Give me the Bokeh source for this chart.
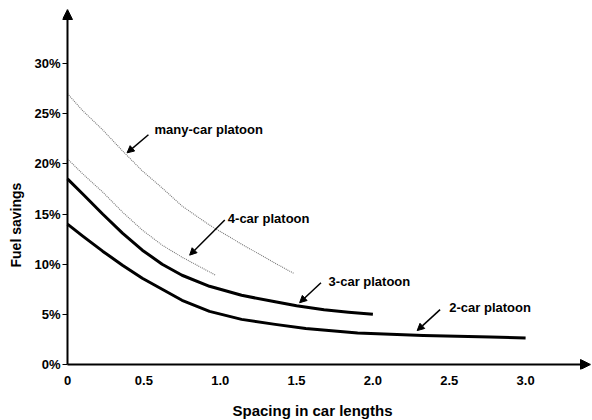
from math import pi
from bokeh.plotting import figure
from bokeh.models import Arrow, NormalHead, Label, FixedTicker, Range1d, Title
from bokeh.embed import file_html
from bokeh.resources import INLINE

# ---- data (fuel savings in %, spacing in car lengths) ----
x_many = [0, 0.1, 0.23, 0.36, 0.49, 0.62, 0.75, 0.93, 1.14, 1.36, 1.48]
y_many = [27.0, 25.3, 23.4, 21.3, 19.3, 17.6, 15.8, 13.9, 12.0, 10.1, 9.1]

x_four = [0, 0.1, 0.23, 0.36, 0.49, 0.62, 0.75, 0.97]
y_four = [20.5, 19.0, 17.2, 15.2, 13.4, 11.9, 10.7, 8.9]

x_three = [0, 0.1, 0.23, 0.36, 0.49, 0.62, 0.75, 0.93, 1.14, 1.36, 1.5, 1.68, 1.84, 2.0]
y_three = [18.5, 17.0, 15.0, 13.1, 11.4, 10.0, 8.9, 7.8, 6.9, 6.25, 5.85, 5.45, 5.2, 5.0]

x_two = [0, 0.1, 0.23, 0.36, 0.49, 0.62, 0.75, 0.93, 1.14, 1.36, 1.56, 1.9, 2.33, 2.77, 3.0]
y_two = [14.0, 12.8, 11.3, 9.9, 8.6, 7.5, 6.4, 5.3, 4.5, 4.0, 3.6, 3.15, 2.9, 2.75, 2.65]

series_names = ["many-car platoon", "4-car platoon", "3-car platoon", "2-car platoon"]

x_ticks = [0, 0.5, 1.0, 1.5, 2.0, 2.5, 3.0]
x_tick_labels = ["0", "0.5", "1.0", "1.5", "2.0", "2.5", "3.0"]
y_ticks = [0, 5, 10, 15, 20, 25, 30]
y_tick_labels = ["0%", "5%", "10%", "15%", "20%", "25%", "30%"]

X_MAX = 3.425
Y_MAX = 35.39

FONT = "Liberation Sans"

p = figure(width=592, height=420, output_backend="svg", toolbar_location=None,
           x_range=Range1d(-0.0327, X_MAX), y_range=Range1d(-0.497, Y_MAX),
           min_border_left=62, min_border_right=2, min_border_top=9, min_border_bottom=50)
p.outline_line_color = None
p.grid.visible = False
p.background_fill_color = "white"
p.border_fill_color = "white"

# axes
for ax in (p.xaxis[0], p.yaxis[0]):
    ax.axis_line_color = None
    ax.minor_tick_line_color = None
    ax.major_label_text_font = FONT
    ax.major_label_text_font_style = "bold"
    ax.major_label_text_font_size = "13px"
    ax.major_label_text_color = "black"
    ax.major_tick_line_color = "black"
    ax.major_tick_line_width = 1
    # invisible spacer label so the titles sit further out
    ax.axis_label = " "
    ax.axis_label_text_font_size = "1px"

p.xaxis.ticker = FixedTicker(ticks=x_ticks)
p.xaxis.major_label_overrides = dict(zip(x_ticks, x_tick_labels))
p.xaxis.major_tick_line_color = None
p.xaxis.major_tick_in = 0
p.xaxis.major_tick_out = 0
p.xaxis.major_label_standoff = 6
p.xaxis.axis_label_standoff = 6

p.yaxis.ticker = FixedTicker(ticks=y_ticks)
p.yaxis.major_label_overrides = dict(zip(y_ticks, y_tick_labels))
p.yaxis.major_tick_in = 5
p.yaxis.major_tick_out = 0
p.yaxis.major_label_standoff = 2
p.yaxis.axis_label_standoff = 2

# axis lines with arrowheads
p.add_layout(Arrow(x_start=0, y_start=0, x_end=0, y_end=Y_MAX, line_width=2, line_color="black",
                   end=NormalHead(size=10, fill_color="black", line_color="black", line_width=1)))
p.add_layout(Arrow(x_start=0, y_start=0, x_end=X_MAX, y_end=0, line_width=2, line_color="black",
                   end=NormalHead(size=10, fill_color="black", line_color="black", line_width=1)))

# series
p.line(x_many, y_many, line_color="#777777", line_width=1.1, line_dash="1 1")
p.line(x_four, y_four, line_color="#777777", line_width=1.1, line_dash="1 1")
p.line(x_three, y_three, line_color="black", line_width=3, line_join="round")
p.line(x_two, y_two, line_color="black", line_width=3, line_join="round")

# annotations: text positions and arrow (start -> end) in data units
label_pos = [(0.57, 23.4), (1.05, 14.6), (1.71, 8.25), (2.50, 5.67)]
arrow_pos = [((0.53, 22.9), (0.39, 21.1)),
             ((1.03, 14.4), (0.80, 10.9)),
             ((1.66, 8.15), (1.52, 6.16)),
             ((2.44, 5.47), (2.29, 3.38))]

for name, (lx, ly), ((sx, sy), (ex, ey)) in zip(series_names, label_pos, arrow_pos):
    p.add_layout(Label(x=lx, y=ly, text=name, text_font=FONT, text_font_style="bold",
                       text_font_size="13px", text_align="left", text_baseline="middle",
                       text_color="black"))
    p.add_layout(Arrow(x_start=sx, y_start=sy, x_end=ex, y_end=ey, line_width=1.5, line_color="black",
                       end=NormalHead(size=7, fill_color="black", line_color="black", line_width=1)))

# axis titles
p.add_layout(Title(text="Spacing in car lengths", text_font=FONT, text_font_style="bold",
                   text_font_size="15px", text_color="black", align="left", offset=170,
                   standoff=4), "below")
p.add_layout(Title(text="Fuel savings", text_font=FONT, text_font_style="bold",
                   text_font_size="14px", text_color="black", align="left", offset=102,
                   standoff=4), "left")

open("out.html", "w").write(file_html(p, INLINE))
